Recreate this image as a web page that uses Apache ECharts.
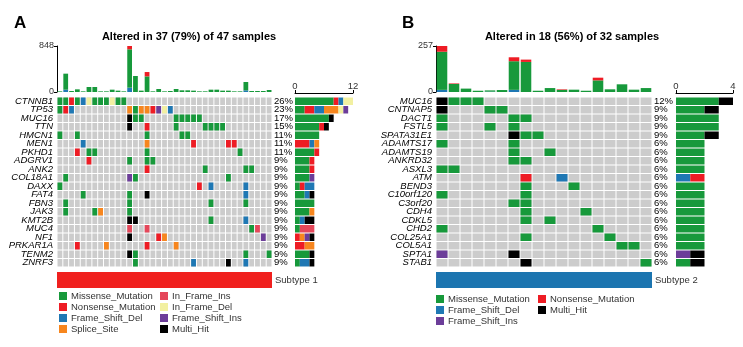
<!DOCTYPE html>
<html>
<head>
<meta charset="utf-8">
<script src="https://cdn.jsdelivr.net/npm/echarts/dist/echarts.min.js"></script>
<style>
  html, body { margin: 0; padding: 0; background: #fff; }
  #chart { width: 743px; height: 347px; }
</style>
</head>
<body>
<div id="chart"></div>
<script>
// mutation classes, in stacking / legend order
var typesA = ["Missense_Mutation", "Nonsense_Mutation", "Frame_Shift_Del", "Splice_Site",
  "In_Frame_Ins", "In_Frame_Del", "Frame_Shift_Ins", "Multi_Hit"];
var typesB = ["Missense_Mutation", "Frame_Shift_Del", "Frame_Shift_Ins", "Nonsense_Mutation", "Multi_Hit"];
var codes = { G: "Missense_Mutation", R: "Nonsense_Mutation", B: "Frame_Shift_Del", O: "Splice_Site",
  I: "In_Frame_Ins", Y: "In_Frame_Del", P: "Frame_Shift_Ins", K: "Multi_Hit" };

// ---- panel A (subtype 1) ----
var samplesA = 37;
var genesA = ["CTNNB1", "TP53", "MUC16", "TTN", "HMCN1", "MEN1", "PKHD1", "ADGRV1", "ANK2", "COL18A1",
  "DAXX", "FAT4", "FBN3", "JAK3", "KMT2B", "MUC4", "NF1", "PRKAR1A", "TENM2", "ZNRF3"];
var pctA = ["26%", "23%", "17%", "15%", "11%", "11%", "11%", "9%", "9%", "9%",
  "9%", "9%", "9%", "9%", "9%", "9%", "9%", "9%", "9%", "9%"];
// column + class code for every altered cell, one string per gene
var cellsA = [
  "0G 1G 2R 3G 4B 5Y 6G 7G 8G 9Y 10G 11G",
  "0G 1R 2B 12O 13G 14O 15O 16R 17P 18Y 19B",
  "12K 13G 14G 20G 21G 22G 23G 24G",
  "12K 15R 20G 25G 26G 27G 28G",
  "0G 3G 15G 21G 22G",
  "4B 15O 23R 29R 30R",
  "3R 5G 6G 15G 31G",
  "5R 12G 15G 16G",
  "15R 25G 32G 33G",
  "1G 12P 13G 29G",
  "0G 24R 26B 32B",
  "4G 12G 15K 32B",
  "1G 12G 26G 32G",
  "1G 6G 7O 12G",
  "12K 13K 26G 32B",
  "12I 15I 33G 34I",
  "12K 17R 18O 35P",
  "3R 8O 15R 20O",
  "12K 13G 32G 36G",
  "13G 23B 29K 32B"
];
// mutations per sample (top bars)
var topFsdA = [0, 43, 0, 0, 0, 0, 0, 0, 0, 0, 0, 0, 80, 0, 0, 0, 0, 0, 0, 0, 0, 0, 0, 0, 0, 0, 0, 0, 0, 0, 0, 0, 30, 0, 0, 0, 0];
var topMisA = [12, 295, 18, 49, 12, 92, 92, 12, 12, 43, 25, 12, 707, 295, 25, 288, 12, 55, 12, 18, 55, 31, 31, 25, 12, 12, 43, 43, 25, 25, 12, 12, 154, 18, 18, 18, 37];
var topNonA = [0, 0, 0, 0, 0, 0, 0, 0, 0, 0, 0, 0, 61, 0, 0, 80, 0, 0, 0, 0, 0, 0, 0, 0, 0, 0, 0, 0, 0, 0, 0, 0, 0, 0, 0, 0, 0];

// ---- panel B (subtype 2) ----
var samplesB = 18;
var genesB = ["MUC16", "CNTNAP5", "DACT1", "FSTL5", "SPATA31E1", "ADAMTS17", "ADAMTS19", "ANKRD32", "ASXL3", "ATM",
  "BEND3", "C10orf120", "C3orf20", "CDH4", "CDKL5", "CHD2", "COL25A1", "COL5A1", "SPTA1", "STAB1"];
var pctB = ["12%", "9%", "9%", "9%", "9%", "6%", "6%", "6%", "6%", "6%",
  "6%", "6%", "6%", "6%", "6%", "6%", "6%", "6%", "6%", "6%"];
var cellsB = [
  "0K 1G 2G 3G",
  "0K 4G 5G",
  "0G 6G 7G",
  "0G 4G 6G",
  "6K 7G 8G",
  "0G 6G",
  "6G 9G",
  "6G 7G",
  "0G 1G",
  "7R 10B",
  "7G 11G",
  "0G 7G",
  "6G 7G",
  "7G 12G",
  "7G 9G",
  "0G 13G",
  "7G 14G",
  "15G 16G",
  "0P 6K",
  "7K 17G"
];
var topFsdB = [12, 0, 0, 0, 2, 0, 12, 0, 0, 0, 0, 0, 0, 0, 0, 0, 0, 0];
var topMisB = [213, 45, 19, 7, 7, 11, 160, 168, 7, 22, 12, 13, 7, 65, 15, 43, 13, 22];
var topNonB = [32, 3, 0, 0, 0, 0, 22, 13, 0, 0, 3, 0, 0, 15, 0, 0, 0, 0];

var colors = {
  Missense_Mutation: "#17993b",
  Nonsense_Mutation: "#ee1c24",
  Frame_Shift_Del: "#1f78b4",
  Splice_Site: "#f7861e",
  In_Frame_Ins: "#e5475a",
  In_Frame_Del: "#f2f0a1",
  Frame_Shift_Ins: "#6c3d99",
  Multi_Hit: "#000000"
};

var FONT = "Liberation Sans";

// parse the cell strings into {type: [[col,row],...]}
function parseCells(cells) {
  var out = {};
  cells.forEach(function (s, row) {
    s.split(" ").forEach(function (tok) {
      var col = parseInt(tok, 10);
      var t = codes[tok.slice(-1)];
      (out[t] = out[t] || []).push([col, row]);
    });
  });
  return out;
}

function counts(parsed, types, nGenes) {
  var res = {};
  types.forEach(function (t) {
    var arr = [];
    for (var i = 0; i < nGenes; i++) arr.push(0);
    (parsed[t] || []).forEach(function (d) { arr[d[1]]++; });
    res[t] = arr;
  });
  return res;
}

function seq(n) {
  var a = [];
  for (var i = 0; i < n; i++) a.push(i);
  return a;
}

function cellItem(params, api) {
  var p = api.coord([api.value(0), api.value(1)]);
  var s = api.size([1, 1]);
  return {
    type: "rect",
    shape: { x: p[0] - s[0] / 2 + 0.5, y: p[1] - s[1] / 2 + 0.5, width: s[0] - 1, height: s[1] - 1 },
    style: { fill: api.visual("color") }
  };
}

var chart = echarts.init(document.getElementById("chart"));

var grids = [], xAxes = [], yAxes = [], series = [];

function panel(o) {
  var g0 = grids.length;
  var x0 = xAxes.length;
  var y0 = yAxes.length;
  var nG = o.genes.length;
  var parsed = parseCells(o.cells);
  var cnt = counts(parsed, o.types, nG);

  // grids: top bars, matrix, right bars, subtype strip
  grids.push({ left: o.left, top: 46, width: o.width, height: 46 });
  grids.push({ left: o.left, top: 97, width: o.width, height: 170 });
  grids.push({ left: o.rightLeft, top: 97, width: o.rightWidth, height: 170 });
  grids.push({ left: o.left, top: 272, width: o.width, height: 16 });

  // top bars
  xAxes.push({ gridIndex: g0, type: "category", data: seq(o.n), show: false });
  yAxes.push({
    gridIndex: g0, type: "value", min: 0, max: o.topMax, interval: o.topMax,
    axisLine: { show: true, lineStyle: { color: "#000" } },
    axisTick: { show: true, length: 3, lineStyle: { color: "#000" } },
    splitLine: { show: false },
    axisLabel: { fontFamily: FONT, fontSize: 9, color: "#333", margin: 3 }
  });
  o.top.forEach(function (t) {
    series.push({
      name: t[0], type: "bar", stack: "top" + g0, xAxisIndex: x0, yAxisIndex: y0,
      barCategoryGap: o.barGap, itemStyle: { color: colors[t[0]] }, data: t[1]
    });
  });

  // matrix
  xAxes.push({ gridIndex: g0 + 1, type: "category", data: seq(o.n), show: false });
  yAxes.push({
    gridIndex: g0 + 1, type: "category", data: o.genes, inverse: true,
    axisLine: { show: false }, axisTick: { show: false },
    axisLabel: { interval: 0, fontFamily: FONT, fontStyle: "italic", fontSize: 9.5, color: "#000", margin: 4 }
  });
  yAxes.push({
    gridIndex: g0 + 1, type: "category", data: o.pct, inverse: true, position: "right",
    axisLine: { show: false }, axisTick: { show: false },
    axisLabel: { interval: 0, fontFamily: FONT, fontSize: 9.5, color: "#000", margin: 2 }
  });
  var bg = [];
  for (var r = 0; r < nG; r++) for (var c = 0; c < o.n; c++) bg.push([c, r]);
  series.push({
    type: "custom", xAxisIndex: x0 + 1, yAxisIndex: y0 + 1, renderItem: cellItem,
    itemStyle: { color: "#cccccc" }, data: bg, silent: true
  });
  o.types.forEach(function (t) {
    series.push({
      name: t, type: "custom", xAxisIndex: x0 + 1, yAxisIndex: y0 + 1, renderItem: cellItem,
      itemStyle: { color: colors[t] }, data: parsed[t] || []
    });
  });

  // right bars: mutations per gene
  xAxes.push({
    gridIndex: g0 + 2, type: "value", position: "top", min: 0, max: o.rightMax, interval: o.rightMax,
    offset: 4,
    axisLine: { show: true, lineStyle: { color: "#000" } },
    axisTick: { show: true, length: 3, lineStyle: { color: "#000" } },
    splitLine: { show: false },
    axisLabel: { fontFamily: FONT, fontSize: 9.5, color: "#333", margin: 2 }
  });
  yAxes.push({ gridIndex: g0 + 2, type: "category", data: o.genes, inverse: true, show: false });
  o.types.forEach(function (t) {
    series.push({
      name: t, type: "bar", stack: "right" + g0, xAxisIndex: x0 + 2, yAxisIndex: y0 + 3,
      barCategoryGap: "12%", itemStyle: { color: colors[t] }, data: cnt[t]
    });
  });

  // subtype strip
  xAxes.push({ gridIndex: g0 + 3, type: "value", min: 0, max: o.n, show: false });
  yAxes.push({
    gridIndex: g0 + 3, type: "category", data: [o.subtype], position: "right",
    axisLine: { show: false }, axisTick: { show: false },
    axisLabel: { fontFamily: FONT, fontSize: 9.5, color: "#333", margin: 3 }
  });
  series.push({
    type: "bar", xAxisIndex: x0 + 3, yAxisIndex: y0 + 4, barWidth: "100%",
    itemStyle: { color: o.subColor }, data: [o.n], silent: true
  });
}

panel({
  left: 57, width: 215, rightLeft: 295, rightWidth: 58, n: samplesA,
  genes: genesA, pct: pctA, cells: cellsA, types: typesA,
  topMax: 848, rightMax: 12, barGap: "18%",
  top: [["Frame_Shift_Del", topFsdA], ["Missense_Mutation", topMisA], ["Nonsense_Mutation", topNonA]],
  subtype: "Subtype 1", subColor: "#f0201e"
});
panel({
  left: 436, width: 216, rightLeft: 676, rightWidth: 57, n: samplesB,
  genes: genesB, pct: pctB, cells: cellsB, types: typesB,
  topMax: 257, rightMax: 4, barGap: "12%",
  top: [["Frame_Shift_Del", topFsdB], ["Missense_Mutation", topMisB], ["Nonsense_Mutation", topNonB]],
  subtype: "Subtype 2", subColor: "#1c75b0"
});

function legendCol(names, left, top) {
  return {
    data: names, orient: "vertical", left: left, top: top, icon: "rect",
    itemWidth: 8, itemHeight: 8, itemGap: 1, padding: 0, selectedMode: false,
    textStyle: { fontFamily: FONT, fontSize: 9.5, lineHeight: 10, color: "#333", padding: [0, 0, 0, -1] }
  };
}

var option = {
  animation: false,
  textStyle: { fontFamily: FONT },
  title: [
    { text: "A", left: 9, top: 10, textStyle: { fontSize: 17, fontWeight: "bold", color: "#000" } },
    { text: "B", left: 397, top: 10, textStyle: { fontSize: 17, fontWeight: "bold", color: "#000" } },
    { text: "Altered in 37 (79%) of 47 samples", left: 184, top: 26, textAlign: "center",
      textStyle: { fontSize: 11, fontWeight: "bold", color: "#000" } },
    { text: "Altered in 18 (56%) of 32 samples", left: 567, top: 26, textAlign: "center",
      textStyle: { fontSize: 11, fontWeight: "bold", color: "#000" } }
  ],
  legend: [
    legendCol(["Missense_Mutation", "Nonsense_Mutation", "Frame_Shift_Del", "Splice_Site"], 59, 291),
    legendCol(["In_Frame_Ins", "In_Frame_Del", "Frame_Shift_Ins", "Multi_Hit"], 160, 291),
    legendCol(["Missense_Mutation", "Frame_Shift_Del", "Frame_Shift_Ins"], 436, 294),
    legendCol(["Nonsense_Mutation", "Multi_Hit"], 538, 294)
  ],
  grid: grids,
  xAxis: xAxes,
  yAxis: yAxes,
  series: series
};

chart.setOption(option);
</script>
</body>
</html>
